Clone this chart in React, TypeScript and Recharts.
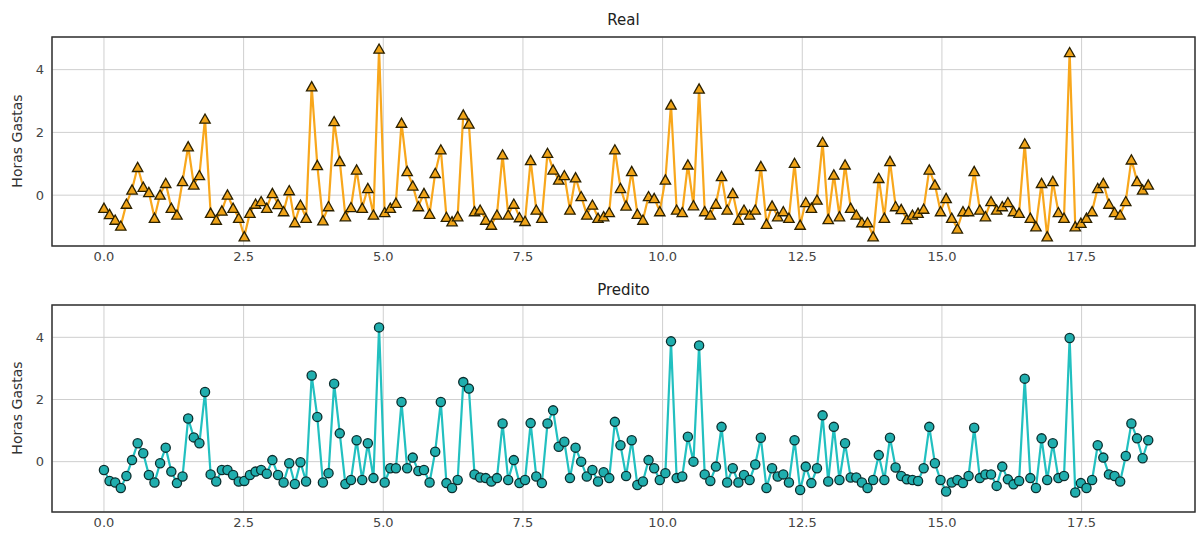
import React from "react";
import {
  CartesianGrid,
  Line,
  LineChart,
  ReferenceArea,
  XAxis,
  YAxis,
} from "recharts";

// values, one per sample (about 0.1 apart on the x axis)
const real = [
  -0.4, -0.6, -0.78, -0.97, -0.27, 0.18, 0.9, 0.27, 0.1, -0.72,
  0.02, 0.39, -0.4, -0.62, 0.45, 1.56, 0.34, 0.64, 2.44, -0.56,
  -0.78, -0.49, 0.02, -0.4, -0.72, -1.31, -0.56, -0.27, -0.19, -0.4,
  0.07, -0.28, -0.51, 0.16, -0.86, -0.3, -0.72, 3.47, 0.96, -0.8,
  -0.35, 2.36, 1.09, -0.67, -0.38, 0.82, -0.4, 0.23, -0.62, 4.67,
  -0.54, -0.4, -0.24, 2.31, 0.77, 0.31, -0.35, 0.07, -0.59, 0.71,
  1.46, -0.69, -0.83, -0.67, 2.57, 2.28, -0.51, -0.46, -0.78, -0.94,
  -0.62, 1.3, -0.62, -0.27, -0.7, -0.82, 1.12, -0.46, -0.72, 1.35,
  0.82, 0.5, 0.64, -0.46, 0.57, -0.03, -0.62, -0.3, -0.72, -0.67,
  -0.54, 1.46, 0.23, -0.33, 0.77, -0.59, -0.78, -0.03, -0.09, -0.51,
  0.5, 2.89, -0.46, -0.54, 0.98, -0.32, 3.4, -0.51, -0.62, -0.27,
  0.61, -0.46, 0.07, -0.78, -0.46, -0.62, -0.46, 0.93, -0.91, -0.33,
  -0.67, -0.51, -0.72, 1.03, -0.94, -0.22, -0.4, -0.14, 1.7, -0.76,
  0.66, -0.67, 0.98, -0.4, -0.62, -0.86, -0.86, -1.31, 0.55, -0.72,
  1.09, -0.35, -0.44, -0.76, -0.62, -0.56, -0.43, 0.82, 0.34, -0.51,
  -0.09, -0.72, -1.06, -0.51, -0.51, 0.77, -0.46, -0.67, -0.19, -0.46,
  -0.35, -0.22, -0.51, -0.56, 1.65, -0.72, -0.99, 0.39, -1.31, 0.45,
  -0.54, -0.72, 4.56, -0.99, -0.88, -0.72, -0.51, 0.23, 0.39, -0.27,
  -0.54, -0.62, -0.19, 1.14, 0.45, 0.18, 0.34,
];

const predito = [
  -0.27, -0.62, -0.67, -0.85, -0.46, 0.05, 0.59, 0.27, -0.43, -0.67,
  -0.05, 0.45, -0.32, -0.69, -0.48, 1.39, 0.78, 0.59, 2.24, -0.41,
  -0.64, -0.27, -0.27, -0.43, -0.64, -0.62, -0.43, -0.32, -0.27, -0.39,
  0.05, -0.43, -0.67, -0.05, -0.72, -0.02, -0.64, 2.77, 1.44, -0.67,
  -0.37, 2.51, 0.91, -0.72, -0.59, 0.69, -0.59, 0.59, -0.53, 4.32,
  -0.67, -0.21, -0.21, 1.92, -0.21, 0.13, -0.3, -0.27, -0.67, 0.32,
  1.92, -0.69, -0.85, -0.59, 2.56, 2.35, -0.41, -0.51, -0.53, -0.64,
  -0.53, 1.23, -0.59, 0.05, -0.69, -0.59, 1.24, -0.48, -0.69, 1.23,
  1.65, 0.48, 0.64, -0.53, 0.45, 0.0, -0.48, -0.27, -0.64, -0.34,
  -0.53, 1.28, 0.53, -0.46, 0.69, -0.75, -0.64, 0.05, -0.21, -0.59,
  -0.37, 3.87, -0.53, -0.48, 0.8, 0.0, 3.74, -0.41, -0.62, -0.16,
  1.12, -0.67, -0.21, -0.67, -0.43, -0.59, -0.09, 0.77, -0.85, -0.21,
  -0.48, -0.41, -0.67, 0.69, -0.91, -0.16, -0.69, -0.21, 1.49, -0.64,
  1.12, -0.59, 0.59, -0.51, -0.51, -0.67, -0.85, -0.59, 0.21, -0.59,
  0.77, -0.19, -0.46, -0.57, -0.59, -0.62, -0.21, 1.12, -0.05, -0.59,
  -0.96, -0.67, -0.59, -0.69, -0.46, 1.09, -0.53, -0.41, -0.41, -0.78,
  -0.16, -0.57, -0.73, -0.62, 2.67, -0.53, -0.85, 0.75, -0.59, 0.59,
  -0.53, -0.46, 3.98, -0.99, -0.69, -0.85, -0.59, 0.53, 0.13, -0.41,
  -0.46, -0.64, 0.18, 1.23, 0.75, 0.11, 0.69,
];

const xTicks = [0, 2.5, 5, 7.5, 10, 12.5, 15, 17.5];
const yTicks = [0, 2, 4];

// spacing of the samples on the x axis, as measured on the picture
const X_STEP = 0.1005;
const X_DOMAIN: [number, number] = [-0.93, 19.53];
const Y_DOMAIN: [number, number] = [-1.62, 5.04];

const data = real.map((v, i) => ({ x: i * X_STEP, real: v, predito: predito[i] }));

const FONT = "'DejaVu Sans', Verdana, sans-serif";
const tickStyle = { fontSize: 13, fill: "#444", fontFamily: FONT };

function TriangleDot(props: any) {
  const { cx, cy, index } = props;
  if (cx == null || cy == null) return <g key={index} />;
  const h = 4.6;
  const w = 5.2;
  return (
    <path
      key={index}
      d={`M${cx},${cy - h} L${cx + w},${cy + h} L${cx - w},${cy + h} Z`}
      fill="#f0a418"
      stroke="#2a2000"
      strokeWidth={1.3}
      strokeLinejoin="miter"
    />
  );
}

function CircleDot(props: any) {
  const { cx, cy, index } = props;
  if (cx == null || cy == null) return <g key={index} />;
  return <circle key={index} cx={cx} cy={cy} r={4.6} fill="#20aeae" stroke="#0b2e2e" strokeWidth={1.3} />;
}

function Panel({
  dataKey,
  color,
  dot,
  height,
  top,
}: {
  dataKey: string;
  color: string;
  dot: (p: any) => React.ReactElement;
  height: number;
  top: number;
}) {
  return (
    <LineChart
      width={1197}
      height={height}
      data={data}
      margin={{ top, right: 2, bottom: 2, left: 0 }}
    >
      <CartesianGrid stroke="#cfcfcf" strokeWidth={1} />
      <XAxis
        dataKey="x"
        type="number"
        domain={X_DOMAIN}
        ticks={xTicks}
        allowDataOverflow
        tickFormatter={(v) => Number(v).toFixed(1)}
        tick={tickStyle}
        tickLine={false}
        axisLine={false}
        tickSize={4}
        tickMargin={2}
        height={18}
      />
      <YAxis
        type="number"
        domain={Y_DOMAIN}
        ticks={yTicks}
        allowDataOverflow
        tick={tickStyle}
        tickLine={false}
        axisLine={false}
        width={52}
      />
      <Line
        dataKey={dataKey}
        stroke={color}
        strokeWidth={2.2}
        dot={dot}
        activeDot={false}
        isAnimationActive={false}
      />
      <ReferenceArea
        x1={X_DOMAIN[0]}
        x2={X_DOMAIN[1]}
        y1={Y_DOMAIN[0]}
        y2={Y_DOMAIN[1]}
        fill="none"
        stroke="#333"
        strokeWidth={1.5}
        fillOpacity={0}
      />
    </LineChart>
  );
}

const titleStyle: React.CSSProperties = {
  position: "absolute",
  left: 52,
  width: 1143,
  textAlign: "center",
  fontFamily: FONT,
  fontSize: 15,
  color: "#222",
  lineHeight: "18px",
};

const yLabelStyle: React.CSSProperties = {
  position: "absolute",
  left: 17,
  width: 0,
  height: 0,
  fontFamily: FONT,
  fontSize: 14,
  color: "#333",
};

function YLabel({ y }: { y: number }) {
  return (
    <div style={{ ...yLabelStyle, top: y }}>
      <div
        style={{
          position: "absolute",
          transform: "translate(-50%, -50%) rotate(-90deg)",
          whiteSpace: "nowrap",
        }}
      >
        Horas Gastas
      </div>
    </div>
  );
}

export default function App() {
  return (
    <div
      style={{
        position: "absolute",
        left: 0,
        top: 0,
        width: 1197,
        height: 534,
        background: "#fff",
        overflow: "hidden",
      }}
    >
      <div style={{ position: "absolute", left: 0, top: 0 }}>
        <Panel dataKey="real" color="#f8a71c" dot={TriangleDot} height={266} top={37} />
      </div>
      <div style={{ position: "absolute", left: 0, top: 270 }}>
        <Panel dataKey="predito" color="#22c0c0" dot={CircleDot} height={262} top={35} />
      </div>
      <div style={{ ...titleStyle, top: 11 }}>Real</div>
      <div style={{ ...titleStyle, top: 281 }}>Predito</div>
      <YLabel y={141} />
      <YLabel y={408} />
    </div>
  );
}
